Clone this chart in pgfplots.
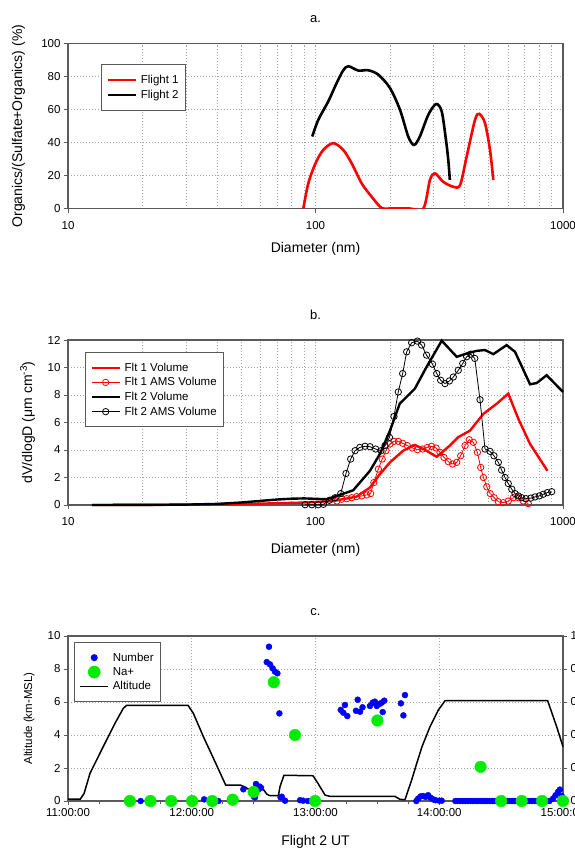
\documentclass[border=0pt]{standalone}
\usepackage{pgfplots}
\pgfplotsset{compat=1.18}
\usepackage{fontspec}
\setmainfont{Liberation Sans}
\definecolor{axc}{RGB}{90,90,90}
\definecolor{gridc}{RGB}{165,165,165}
\definecolor{ngreen}{RGB}{0,235,0}
\pgfplotsset{
 base/.style={
  scale only axis, width=495pt, height=165pt,
  axis line style={axc, line width=1.2pt},
  tick style={axc, line width=0.8pt},
  major tick length=4pt, minor tick length=0pt,
  tick align=outside,
  /pgf/number format/assume math mode=true,
  grid style={gridc, line width=0.6pt, dash pattern=on 1pt off 2pt},
  ticklabel style={font=\fontsize{11.5}{13}\selectfont},
  label style={font=\fontsize{14}{16}\selectfont},
  title style={at={(axis description cs:0.5,1)}, anchor=base, yshift=15pt, inner sep=0pt, font=\fontsize{13}{15}\selectfont},
  xlabel style={at={(axis description cs:0.5,0)}, anchor=base, yshift=-44pt, inner sep=0pt},
  legend cell align=left,
  legend style={draw=axc, line width=1pt, font=\fontsize{11.5}{13}\selectfont, inner xsep=5pt, inner ysep=8.5pt, row sep=1.2pt, column sep=2pt, nodes={inner sep=1.8pt}, anchor=north west},
  legend image code/.code={\draw[mark repeat=2,mark phase=2,##1] plot coordinates {(0pt,0pt) (14pt,0pt) (28pt,0pt)};},
 }
}
\begin{document}
\begin{tikzpicture}
% ---------------- panel a ----------------
\begin{axis}[base, at={(68pt,-208.5pt)}, anchor=south west,
 xmode=log, xmin=10, xmax=1000, ymin=0, ymax=100,
 xtick={10,100,1000}, xticklabels={10,100,1000}, ytick={0,20,...,100},
 xticklabel style={yshift=-5pt},
 tick pos=left, xmajorgrids, xminorgrids, ymajorgrids,
 xlabel={Diameter (nm)}, ylabel={Organics/(Sulfate+Organics) (\%)},
 ylabel style={at={(axis description cs:-0.0929,0.5)}, anchor=base, inner sep=0pt},
 title={a.},
 legend style={at={(axis description cs:0.0667,0.873)}},
]
\addplot[red, line width=2.6pt, smooth, tension=0.5] table {
89.3 0
93.5 15.2
100 27.4
107.5 35.5
118 39.6
129.4 35.5
140 27.4
153.7 15.2
168.7 7.1
185 0.3
200 0
240 0
272.9 0
290 17.3
304 21.3
328 16.2
360 13.2
384 14.2
408 31.4
441 53.7
459 57.4
484 51.7
507 35.5
523 17.3
};
\addlegendentry{Flight 1}
\addplot[black, line width=2.6pt, smooth, tension=0.5] table {
97 43.6
102.6 53.7
112.6 64.9
121.8 76.1
129.5 83.8
135.8 86.2
149 83.6
163.4 83.8
179.4 81.1
200 73
219.5 59.8
237 43.6
250 38.5
264 43.6
285.6 56.8
307 63.3
323.6 58.8
336.6 41.6
344 29.4
349 17.3
};
\addlegendentry{Flight 2}
\end{axis}
% ---------------- panel b ----------------
\begin{axis}[base, at={(68pt,-505pt)}, anchor=south west, clip=false,
 xmode=log, xmin=10, xmax=1000, ymin=0, ymax=12,
 xtick={10,100,1000}, xticklabels={10,100,1000}, ytick={0,2,...,12},
 xticklabel style={yshift=-5pt},
 xlabel style={yshift=-4pt},
 tick pos=left, xmajorgrids, xminorgrids, ymajorgrids,
 xlabel={Diameter (nm)}, ylabel={dV/dlogD (μm cm\textsuperscript{-3})},
 ylabel style={at={(axis description cs:-0.0727,0.5)}, anchor=base, inner sep=0pt},
 title={b.},
 legend style={at={(axis description cs:0.0343,0.927)}},
]
\addplot[red, line width=2.4pt] table {
12.5 0
20 0.01
30 0.02
40 0.04
50 0.07
60 0.1
70 0.13
86.5 0.17
100 0.22
118 0.29
146.5 0.61
166 1.27
182 2.24
200 3.10
226 3.95
252 4.37
273 4.07
309 3.51
349 4.32
377 4.93
421 5.41
477 6.63
540 7.37
601 8.10
660 6.27
736 4.44
865 2.49
};
\addlegendentry{Flt 1 Volume}
\addplot[red, line width=0.8pt, mark=o, mark size=3.2pt, mark options={fill=white, line width=0.8pt}] table {
122 0.29
127.6 0.42
133.7 0.46
140 0.53
146.6 0.61
153.7 0.66
161 0.73
167 0.83
172 1.63
179.5 2.61
186 3.34
192.7 3.95
200 4.44
207.6 4.63
216 4.63
225 4.49
235 4.32
246 4.15
258 4.02
271 4.07
283 4.19
294.5 4.27
307 4.15
318.5 3.83
330.5 3.46
344 3.15
358 2.98
372 3.1
386 3.58
402 4.32
418 4.75
434 4.56
451 3.83
465 2.73
477 2.0
492 1.32
508 0.83
527 0.53
548 0.24
574 0.17
601 0.29
630 0.53
660 0.53
691 0.29
724 0.1
};
\addlegendentry{Flt 1 AMS Volume}
\addplot[black, line width=2.4pt] table {
12.5 0
20 0.01
30 0.03
40 0.08
50 0.18
60 0.3
70 0.4
80 0.46
90 0.48
100 0.45
111 0.42
127.6 0.78
142 1.07
166 2.49
182 3.71
200 5.41
219 7.37
252 8.46
281 10.04
323.6 11.95
372 10.78
408 11.02
448 11.21
484 11.27
523 10.97
592 11.63
640 11.14
736 8.78
783 8.87
859 9.44
1000 8.22
};
\addlegendentry{Flt 2 Volume}
\addplot[black, line width=0.8pt, mark=o, mark size=3.2pt, mark options={fill=white, line width=0.8pt}] table {
90.8 0.02
96.6 0.02
102.6 0.02
107.6 0.05
113.8 0.34
120 0.53
126.5 0.83
132.8 2.29
138.7 3.34
144.5 3.95
151 4.19
158.5 4.27
166 4.24
175 4.07
184 3.95
191 4.32
199 4.92
207.5 6.44
216 8.22
225 9.56
233.5 11.14
244.6 11.8
258 11.92
268.5 11.63
281 10.9
297 10.24
309 9.56
320.5 9.07
333.5 8.83
347.5 9.02
360.5 9.31
377.6 9.8
393.5 10.29
408 10.78
423.6 10.97
440 10.66
462 7.66
484 4.07
507 3.9
526 3.58
548 3.1
565 2.54
583 2.0
601 1.56
621 1.15
640 0.83
660 0.66
681 0.53
709 0.46
741 0.5
771 0.59
802 0.66
832 0.78
864 0.9
900 0.97
};
\addlegendentry{Flt 2 AMS Volume}
\end{axis}
% ---------------- panel c (right axis labels) ----------------
\begin{axis}[base, at={(68pt,-801pt)}, anchor=south west,
 xmin=11, xmax=15, ymin=0, ymax=1, hide x axis, axis y line*=right,
 ytick={0,0.2,...,1}, yticklabels={0.0,0.2,0.4,0.6,0.8,1.0},
 ticklabel style={font=\fontsize{11.5}{13}\selectfont},
]
\end{axis}
% ---------------- panel c ----------------
\begin{axis}[base, at={(68pt,-801pt)}, anchor=south west, clip=false,
 xmin=11, xmax=15, ymin=0, ymax=10,
 xtick={11,12,13,14,15}, xticklabels={11:00:00,12:00:00,13:00:00,14:00:00,15:00:00},
 minor x tick num=3, minor tick length=3pt,
 ytick={0,2,...,10}, xtick pos=left, ytick pos=left,
 xmajorgrids, ymajorgrids,
 ticklabel style={font=\fontsize{11.5}{13}\selectfont},
 xlabel={Flight 2 UT}, ylabel={Altitude (km-MSL)},
 ylabel style={at={(axis description cs:-0.0727,0.5)}, anchor=base, inner sep=0pt, font=\fontsize{11.5}{13}\selectfont},
 title={c.},
 legend style={at={(axis description cs:0.0121,0.964)}},
]
\addplot[only marks, mark=*, mark size=3pt, color=blue] table {
11.587 0
12.10 0.1
12.16 0.05
12.215 0
12.417 0.71
12.503 0.26
12.511 0.22
12.519 1.03
12.538 0.7
12.55 0.87
12.56 0.8
12.606 8.42
12.624 9.35
12.632 8.28
12.654 8.04
12.673 7.84
12.692 7.74
12.708 5.31
12.718 0.22
12.727 0.26
12.754 0.02
12.875 0.05
12.90 0.02
12.94 0
13.204 5.52
13.225 5.35
13.238 5.82
13.257 5.15
13.327 5.47
13.341 6.14
13.36 5.41
13.38 5.68
13.44 5.76
13.462 5.96
13.48 6.02
13.495 5.76
13.516 5.88
13.535 5.96
13.543 5.39
13.556 6.08
13.69 5.92
13.71 5.19
13.723 6.42
13.815 0.0
13.83 0.15
13.85 0.28
13.87 0.3
13.89 0.25
13.91 0.35
13.93 0.2
13.95 0.1
13.97 0.05
14.0 0.02
14.02 0.02
14.13 0
14.15 0
14.17 0
14.19 0
14.21 0
14.23 0
14.25 0
14.27 0
14.29 0
14.31 0
14.33 0
14.35 0
14.37 0
14.39 0
14.41 0
14.43 0
14.45 0
14.47 0
14.49 0
14.51 0
14.53 0
14.55 0
14.57 0
14.59 0
14.61 0
14.63 0
14.65 0
14.67 0
14.69 0
14.71 0
14.73 0
14.75 0
14.77 0
14.79 0
14.81 0
14.83 0
14.85 0
14.87 0
14.89 0
14.92 0.15
14.94 0.35
14.96 0.55
14.975 0.69
14.99 0.3
15.0 0.1
};
\addlegendentry{Number}
\addplot[only marks, mark=*, mark size=5.8pt, color=ngreen] table {
11.5 0
11.666 0
11.834 0
12.003 0
12.166 0
12.331 0.08
12.5 0.55
12.663 7.2
12.834 4.0
12.997 0
13.5 4.88
14.334 2.07
14.5 0
14.666 0
14.831 0
15.0 0
};
\addlegendentry{Na+}
\addplot[black, line width=1.5pt, mark=none] table {
11.000 0.12
11.100 0.12
11.130 0.46
11.178 1.68
11.285 3.30
11.380 4.71
11.447 5.62
11.474 5.80
11.970 5.80
12.013 5.31
12.094 3.90
12.188 2.38
12.274 0.97
12.390 0.97
12.430 0.85
12.460 0.71
12.578 0.71
12.606 0.42
12.632 0.32
12.700 0.32
12.713 0.87
12.745 1.56
12.980 1.53
13.020 1.07
13.077 0.36
13.117 0.28
13.642 0.28
13.683 0.10
13.723 0.08
13.777 1.27
13.818 2.28
13.861 3.30
13.925 4.50
13.994 5.53
14.047 6.08
14.876 6.08
14.949 4.50
15.000 3.29
};
\addlegendentry{Altitude}
\end{axis}
\pgfresetboundingbox
\path[use as bounding box] (0pt,0pt) rectangle (575pt,-848pt);
\end{tikzpicture}
\end{document}
